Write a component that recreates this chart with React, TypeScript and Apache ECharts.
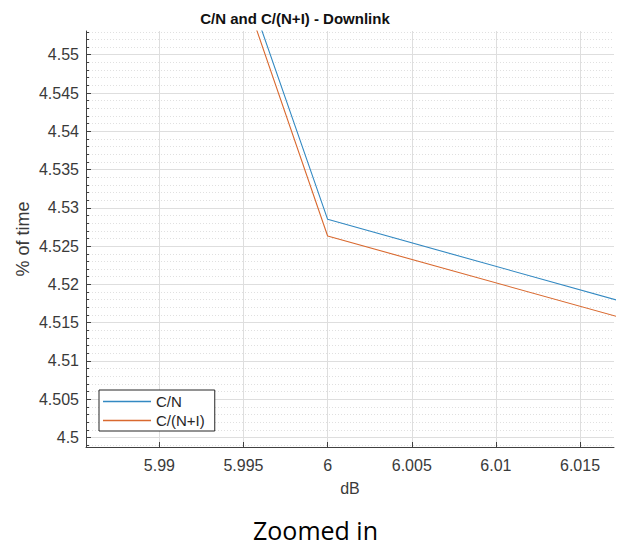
import React, { useEffect, useRef } from "react";
import * as echarts from "echarts";

const titleText = "C/N and C/(N+I) - Downlink";
const xName = "dB";
const yName = "% of time";
const caption = "Zoomed in";

const seriesNames = ["C/N", "C/(N+I)"];
const seriesColors = ["#3389c2", "#d9692f"];
const xValues = [5.99, 6.0, 6.02];
const cnValues = [4.59161, 4.5285, 4.51622];
const cniValues = [4.59016, 4.52632, 4.51409];

const xTicks = [5.99, 5.995, 6, 6.005, 6.01, 6.015];
const yTicks = [4.5, 4.505, 4.51, 4.515, 4.52, 4.525, 4.53, 4.535, 4.54, 4.545, 4.55];

const xMin = 5.98564;
const xMax = 6.01702;
const yMin = 4.49876;
const yMax = 4.5531;

const yMinorTicks: number[] = [];
for (let k = 4499; k <= 4553; k++) {
  if (k % 5 !== 0) yMinorTicks.push(k / 1000);
}

const fmt = (v: number) => String(Number(v.toFixed(4)));

export default function App() {
  const ref = useRef<HTMLDivElement>(null);
  useEffect(() => {
    if (!ref.current) return;
    const chart = echarts.init(ref.current, null, { renderer: "svg" });
    const labelColor = "#3a3a3a";
    const axisColor = "#404040";
    const font = "'Liberation Sans', Arial, sans-serif";
    chart.setOption({
      animation: false,
      backgroundColor: "#ffffff",
      textStyle: { fontFamily: font },
      grid: { left: 86, right: 7, top: 31, bottom: 102, containLabel: false },
      graphic: [
        {
          type: "text",
          x: 295,
          y: 18,
          style: {
            text: titleText,
            fontFamily: font,
            fontSize: 15,
            fontWeight: "bold",
            fill: "#111111",
            textAlign: "center",
            textVerticalAlign: "middle",
          },
        },
        {
          type: "text",
          x: 315.5,
          y: 530,
          style: {
            text: caption,
            fontFamily: "'Open Sans', sans-serif",
            fontSize: 25,
            fill: "#000000",
            textAlign: "center",
            textVerticalAlign: "middle",
          },
        },
      ],
      legend: {
        orient: "vertical",
        left: 99,
        top: 390,
        align: "left",
        data: seriesNames.map((n, i) => ({
          name: n,
          icon: "rect",
          itemStyle: { color: seriesColors[i] },
        })),
        itemWidth: 48,
        itemHeight: 1.5,
        itemGap: 4,
        padding: [4, 10, 3, 4],
        backgroundColor: "#ffffff",
        borderColor: "#262626",
        borderWidth: 1,
        textStyle: { fontSize: 15, color: "#262626", fontFamily: font },
      },
      xAxis: {
        type: "value",
        min: xMin,
        max: xMax,
        name: xName,
        nameLocation: "middle",
        nameGap: 33,
        nameMoveOverlap: false,
        nameTextStyle: { fontSize: 16, color: labelColor, fontFamily: font },
        axisLine: { show: true, lineStyle: { color: axisColor, width: 1 } },
        axisTick: {
          show: true,
          inside: true,
          length: 5,
          customValues: xTicks,
          lineStyle: { color: axisColor },
        },
        axisLabel: {
          fontSize: 16,
          color: labelColor,
          margin: 10,
          customValues: xTicks,
          formatter: fmt,
        },
        splitLine: {
          show: true,
          lineStyle: { color: "#dedede", width: 1 },
        },
      },
      yAxis: [
        {
          type: "value",
          min: yMin,
          max: yMax,
          position: "left",
          z: 2,
          name: yName,
          nameLocation: "middle",
          nameGap: 54,
          nameMoveOverlap: false,
          nameRotate: 90,
          nameTextStyle: { fontSize: 18, color: labelColor, fontFamily: font },
          axisLine: { show: true, lineStyle: { color: axisColor, width: 1 } },
          axisTick: {
            show: true,
            inside: true,
            length: 5,
            customValues: yTicks,
            lineStyle: { color: axisColor },
          },
          axisLabel: {
            fontSize: 16,
            color: labelColor,
            margin: 7,
            customValues: yTicks,
            formatter: fmt,
          },
          splitLine: {
            show: true,
            lineStyle: { color: "#dedede", width: 1 },
          },
        },
        {
          type: "value",
          min: yMin,
          max: yMax,
          position: "left",
          offset: 0,
          z: 1,
          axisLine: { show: false },
          axisTick: {
            show: true,
            inside: true,
            length: 3,
            customValues: yMinorTicks,
            lineStyle: { color: axisColor },
          },
          axisLabel: { show: false },
          splitLine: {
            show: true,
            lineStyle: { color: "#e0e0e0", width: 1, type: [1, 2] },
          },
        },
      ],
      series: [
        {
          name: seriesNames[0],
          type: "line",
          yAxisIndex: 0,
          symbol: "none",
          clip: true,
          lineStyle: { color: seriesColors[0], width: 1.1 },
          itemStyle: { color: seriesColors[0] },
          data: xValues.map((x, i) => [x, cnValues[i]]),
          z: 5,
        },
        {
          name: seriesNames[1],
          type: "line",
          yAxisIndex: 0,
          symbol: "none",
          clip: true,
          lineStyle: { color: seriesColors[1], width: 1.1 },
          itemStyle: { color: seriesColors[1] },
          data: xValues.map((x, i) => [x, cniValues[i]]),
          z: 5,
        },
      ],
    });
    return () => chart.dispose();
  }, []);
  return (
    <div
      ref={ref}
      style={{ position: "absolute", left: 0, top: 0, width: 621, height: 549 }}
    />
  );
}
